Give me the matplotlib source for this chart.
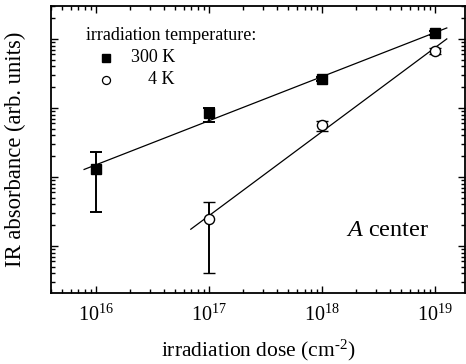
import matplotlib
matplotlib.use("Agg")
import matplotlib.pyplot as plt
import numpy as np

plt.rcParams['font.family'] = ['Liberation Serif', 'DejaVu Serif']
plt.rcParams['mathtext.fontset'] = 'custom'
plt.rcParams['mathtext.rm'] = 'Liberation Serif'
plt.rcParams['mathtext.it'] = 'Liberation Serif:italic'

# dose values (cm^-2)
dose_300 = [1e16, 1e17, 1e18, 1e19]
dose_4 = [1e17, 1e18, 1e19]

# absorbance (arb. units)
abs_300 = [0.0131, 0.0838, 0.261, 1.21]
abs_300_hi = [0.0230, 0.100, 0.280, 1.30]
abs_300_lo = [0.00311, 0.0627, 0.243, 1.13]

abs_4 = [0.00246, 0.0568, 0.670]
abs_4_hi = [0.00439, 0.0655, 0.730]
abs_4_lo = [0.00041, 0.0465, 0.615]

# range of the fitted lines
fit_range_300 = [7.85e15, 1.27e19]
fit_range_4 = [6.9e16, 1.27e19]

fig = plt.figure(figsize=(4.66, 3.64), dpi=100)
ax = fig.add_axes([51/466, 1-293/364, 414/466, 287/364])

ax.set_xscale('log')
ax.set_yscale('log')

# fitted straight lines in log-log
for d, a, r in [(dose_300, abs_300, fit_range_300), (dose_4, abs_4, fit_range_4)]:
    p = np.polyfit(np.log10(d), np.log10(a), 1)
    xx = np.array(r)
    ax.plot(xx, 10**np.polyval(p, np.log10(xx)), color='black', lw=0.9, zorder=2)

err300 = [np.array(abs_300) - np.array(abs_300_lo), np.array(abs_300_hi) - np.array(abs_300)]
err4 = [np.array(abs_4) - np.array(abs_4_lo), np.array(abs_4_hi) - np.array(abs_4)]

ax.errorbar(dose_300, abs_300, yerr=err300, fmt='s', color='black', mfc='black',
            ms=6.5, capsize=4.3, elinewidth=1.4, capthick=1.4, zorder=3)
ax.errorbar(dose_4, abs_4, yerr=err4, fmt='o', color='black', mfc='white', mew=1.0,
            ms=7.3, capsize=4.3, elinewidth=1.4, capthick=1.4, zorder=3)

ax.set_xlim(10**15.602, 10**19.265)
ax.set_ylim(10**-3.681, 10**0.478)

ax.set_xticks([1e16, 1e17, 1e18, 1e19])
ax.set_xticklabels([r'$10^{16}$', r'$10^{17}$', r'$10^{18}$', r'$10^{19}$'])
ax.set_yticks([1e-3, 1e-2, 1e-1, 1])
ax.set_yticklabels([])
ax.xaxis.set_minor_locator(matplotlib.ticker.LogLocator(base=10, subs=np.arange(2, 10), numticks=20))
ax.yaxis.set_minor_locator(matplotlib.ticker.LogLocator(base=10, subs=np.arange(2, 10), numticks=20))
ax.yaxis.set_minor_formatter(matplotlib.ticker.NullFormatter())
ax.tick_params(which='both', direction='in', top=True, right=True, width=1.0)
ax.tick_params(which='major', length=5, labelsize=14.5, pad=8)
ax.tick_params(which='minor', length=3)
for s in ax.spines.values():
    s.set_linewidth(1.3)

ax.set_xlabel(r'irradiation dose (cm$^{\text{-}2}$)', fontsize=15.5, labelpad=9)
ax.set_ylabel('IR absorbance (arb. units)', fontsize=16.3, labelpad=10)

# legend drawn by hand
tr = fig.transFigure
fig.text(86/466, 1-35/364, 'irradiation temperature:', fontsize=13, va='center', ha='left')
fig.text(175/466, 1-58/364, '300 K', fontsize=13, va='center', ha='right')
fig.text(175/466, 1-80/364, '4 K', fontsize=13, va='center', ha='right')
ax.plot([106/466], [1-58/364], 's', color='black', ms=5.6, transform=tr, clip_on=False)
ax.plot([106/466], [1-80/364], 'o', color='black', mfc='white', mew=0.9, ms=5.8, transform=tr, clip_on=False)

fig.text(388/466, 1-230/364, r'$\mathit{A}$ center', fontsize=17.5, va='center', ha='center')

plt.savefig('out.png', dpi=100)
